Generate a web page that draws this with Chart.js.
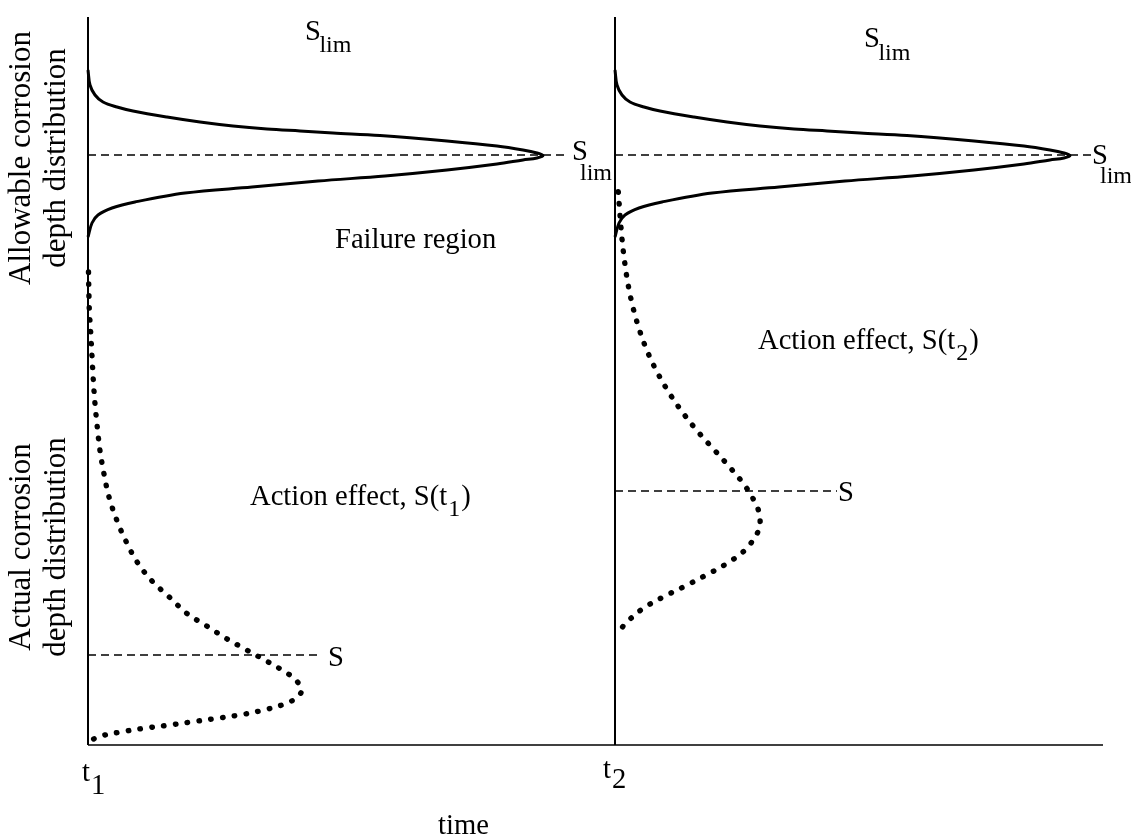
<!DOCTYPE html>
<html>
<head>
<meta charset="utf-8">
<script src="https://cdn.jsdelivr.net/npm/chart.js@4.4.0/dist/chart.umd.min.js"></script>
<style>
  html, body { margin: 0; padding: 0; background: #ffffff; }
  #wrap { position: relative; width: 1131px; height: 838px; }
</style>
</head>
<body>
<div id="wrap"><canvas id="c"></canvas></div>
<script>
// ---- time positions (x values) ----
const timeValues = [0, 527];
const timeNames = ['t', 't'];
const timeSubs = ['1', '2'];
const axisEnd = 1015;   // right end of the time axis
const depthTop = 728;   // top of the depth axis

// ---- allowable corrosion depth distribution, same shape at t1 and t2 ----
const allowableDepth   = [675, 660, 650, 643, 638, 634, 628, 623, 619, 616, 614, 612, 609.5, 604, 599, 595, 592, 589.5, 587, 585, 581, 575, 569, 564, 558, 552, 543, 537, 530, 522, 508];
const allowableDensity = [0, 2, 7, 15, 29, 45, 79, 112, 145, 179, 212, 245, 292, 359, 409, 435, 449, 455, 449, 435, 409, 359, 297, 230, 164, 97, 47, 24, 10, 4, 0];

// ---- actual corrosion depth distribution at t1 ----
const actual1X = [0.5, 1, 1.3, 2.7, 4, 5.3, 7, 9.3, 12, 16, 21, 28.7, 38, 49.3, 64, 81, 98.7, 118.7, 138.7, 158.7, 179.7, 199.3, 208.7, 213.7, 206.3, 196, 173, 149.7, 126.3, 103, 79.7, 56, 32.7, 9.7, 0.3];
const actual1Depth = [473, 447, 435.7, 412.3, 389, 365, 341.3, 317.7, 294.3, 271, 248, 225, 203.7, 182.7, 164, 148.3, 131.7, 119, 106.3, 95, 83.3, 71.7, 64, 54.3, 45.7, 40.7, 34.3, 29.7, 26.3, 23, 19.7, 16.7, 13, 8, 2.3];

// ---- actual corrosion depth distribution at t2 ----
const actual2X = [530.3, 532, 534, 536.7, 540.3, 545.3, 552, 560.3, 570.7, 582.7, 596.3, 611, 627, 642.7, 657.7, 669.3, 672, 670.7, 657.3, 638, 617.7, 596.7, 575.7, 555.3, 537.3, 530.3];
const actual2Depth = [553.3, 530, 506.3, 482.7, 459.3, 436.3, 413.3, 391.3, 370, 349.7, 330.3, 312, 294.3, 276.7, 258.3, 237.7, 226.3, 214.7, 195.3, 181, 169.7, 158.7, 148.3, 136.7, 121.3, 111.7];

// ---- reference levels ----
const sLimDepth = 590;
const sLimLineEnd = [480, 1004];
const sDepth = [90, 254];
const sLineEnd = [230, 749];

// build datasets from the arrays
const allowableAt = t => allowableDepth.map((d, i) => ({ x: t + allowableDensity[i], y: d }));
const zip = (xs, ys) => xs.map((v, i) => ({ x: v, y: ys[i] }));

const solid = { borderColor: '#000', borderWidth: 3, pointRadius: 0, showLine: true, tension: 0.35, fill: false, clip: false };
const dotted = { borderColor: '#000', borderWidth: 5.4, borderDash: [0.5, 11.4], borderCapStyle: 'round', pointRadius: 0, showLine: true, tension: 0.35, fill: false, clip: false };
const dashed = { borderColor: '#000', borderWidth: 1.4, borderDash: [8, 5], pointRadius: 0, showLine: true, tension: 0, fill: false, clip: false };
const axisLine = { borderColor: '#000', borderWidth: 2, pointRadius: 0, showLine: true, tension: 0, fill: false, clip: false };

const datasets = [
  Object.assign({ data: [{ x: timeValues[0], y: 0 }, { x: axisEnd, y: 0 }] }, axisLine, { borderWidth: 1.6 }),
  Object.assign({ data: [{ x: timeValues[0], y: 0 }, { x: timeValues[0], y: depthTop }] }, axisLine),
  Object.assign({ data: [{ x: timeValues[1], y: 0 }, { x: timeValues[1], y: depthTop }] }, axisLine),
  Object.assign({ data: [{ x: timeValues[0], y: sLimDepth }, { x: sLimLineEnd[0], y: sLimDepth }] }, dashed),
  Object.assign({ data: [{ x: timeValues[1], y: sLimDepth }, { x: sLimLineEnd[1], y: sLimDepth }] }, dashed),
  Object.assign({ data: [{ x: timeValues[0], y: sDepth[0] }, { x: sLineEnd[0], y: sDepth[0] }] }, dashed),
  Object.assign({ data: [{ x: timeValues[1], y: sDepth[1] }, { x: sLineEnd[1], y: sDepth[1] }] }, dashed),
  Object.assign({ data: allowableAt(timeValues[0]) }, solid),
  Object.assign({ data: allowableAt(timeValues[1]) }, solid),
  Object.assign({ data: zip(actual1X, actual1Depth) }, dotted),
  Object.assign({ data: zip(actual2X, actual2Depth) }, dotted)
];

const FONT = '"Liberation Serif", "Times New Roman", serif';
const labelPlugin = {
  id: 'labels',
  afterDatasetsDraw(chart) {
    const { ctx, scales: { x, y } } = chart;
    const X = v => x.getPixelForValue(v), Y = v => y.getPixelForValue(v);
    const main = '28.6px ' + FONT, sub = '24px ' + FONT, side = '31px ' + FONT;
    ctx.save();
    ctx.fillStyle = '#000';
    ctx.textAlign = 'left';
    ctx.textBaseline = 'alphabetic';
    const put = (s, px, py, f) => { ctx.font = f; ctx.fillText(s, px, py); return px + ctx.measureText(s).width; };

    // S_lim on top of each panel
    let e = put('S', X(217), Y(705), main); put('lim', e - 1.5, Y(705) + 12, sub);
    e = put('S', X(776), Y(698), main); put('lim', e - 1.5, Y(698) + 13, sub);
    // S_lim at the peaks
    put('S', X(484), Y(585), main); put('lim', X(492), Y(565), sub);
    put('S', X(1004), Y(581), main); put('lim', X(1012), Y(562), sub);
    // region labels
    put('Failure region', X(247), Y(497), main);
    e = put('Action effect, S(t', X(162), Y(240), main); e = put('1', e + 1, Y(240) + 11, sub); put(')', e + 1, Y(240), main);
    e = put('Action effect, S(t', X(670), Y(396), main); e = put('2', e + 1, Y(396) + 11, sub); put(')', e + 1, Y(396), main);
    // S markers
    put('S', X(240), Y(79), main);
    put('S', X(750), Y(244), main);
    // time ticks
    e = put(timeNames[0], X(timeValues[0] - 6), Y(-36), main); put(timeSubs[0], e + 1, Y(-36) + 13, main);
    e = put(timeNames[1], X(timeValues[1] - 12), Y(-33), main); put(timeSubs[1], e + 1, Y(-33) + 10, main);
    put('time', X(350), Y(-89), main);

    // rotated y labels
    ctx.font = side;
    ctx.textAlign = 'center';
    ctx.textBaseline = 'middle';
    const rot = (lines, cy) => {
      lines.forEach((s, i) => {
        ctx.save();
        ctx.translate(X(i === 0 ? -66 : -31), Y(cy));
        ctx.rotate(-Math.PI / 2);
        ctx.fillText(s, 0, 0);
        ctx.restore();
      });
    };
    rot(['Allowable corrosion', 'depth distribution'], 587);
    rot(['Actual corrosion', 'depth distribution'], 198);
    ctx.restore();
  }
};

new Chart(document.getElementById('c'), {
  type: 'scatter',
  data: { datasets },
  options: {
    responsive: true,
    maintainAspectRatio: false,
    animation: false,
    layout: { padding: { left: 88, right: 28, top: 17, bottom: 93 } },
    scales: {
      x: { type: 'linear', min: 0, max: axisEnd, display: false },
      y: { type: 'linear', min: 0, max: depthTop, display: false }
    },
    plugins: { legend: { display: false }, tooltip: { enabled: false } }
  },
  plugins: [labelPlugin]
});
</script>
</body>
</html>
